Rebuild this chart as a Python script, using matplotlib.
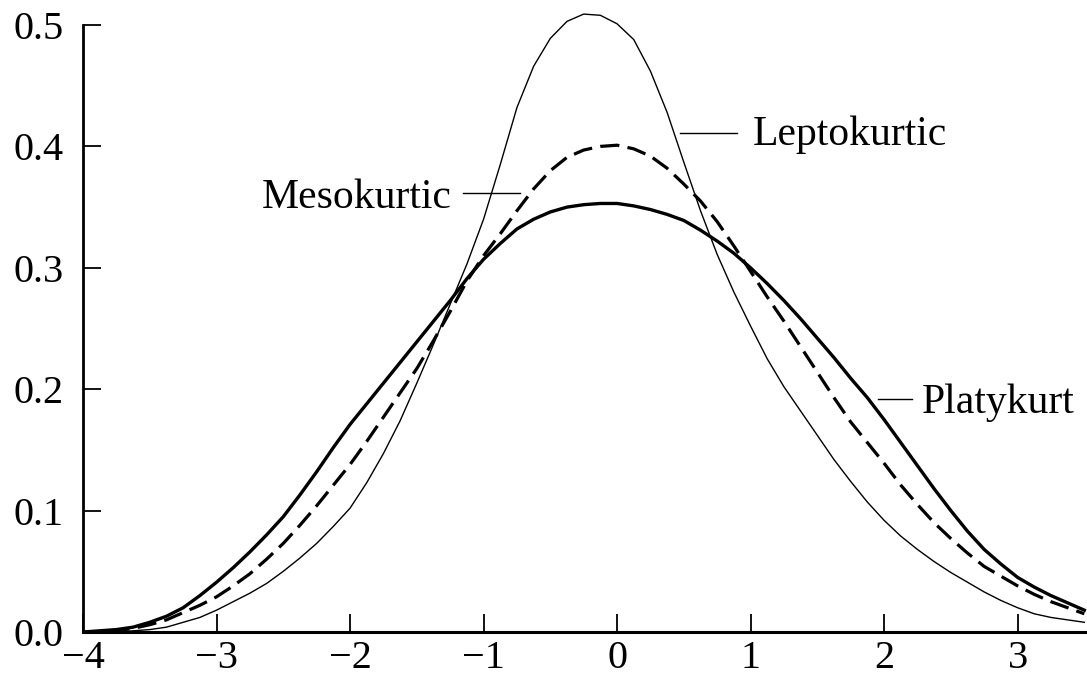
import matplotlib
matplotlib.use("Agg")
import matplotlib.pyplot as plt

plt.rcParams['font.family'] = ['Liberation Serif', 'DejaVu Serif']

x_vals = [-4.0, -3.875, -3.75, -3.625, -3.5, -3.375, -3.25, -3.125,
          -3.0, -2.875, -2.75, -2.625, -2.5, -2.375, -2.25, -2.125,
          -2.0, -1.875, -1.75, -1.625, -1.5, -1.375, -1.25, -1.125,
          -1.0, -0.875, -0.75, -0.625, -0.5, -0.375, -0.25, -0.125,
          0.0, 0.125, 0.25, 0.375, 0.5, 0.625, 0.75, 0.875,
          1.0, 1.125, 1.25, 1.375, 1.5, 1.625, 1.75, 1.875,
          2.0, 2.125, 2.25, 2.375, 2.5, 2.625, 2.75, 2.875,
          3.0, 3.125, 3.25, 3.375, 3.5]

platykurtic = [0.000, 0.001, 0.002, 0.004, 0.008, 0.013, 0.020, 0.030,
               0.041, 0.053, 0.066, 0.080, 0.095, 0.113, 0.132, 0.152,
               0.171, 0.188, 0.205, 0.222, 0.239, 0.256, 0.273, 0.291,
               0.307, 0.320, 0.332, 0.340, 0.346, 0.350, 0.352, 0.353,
               0.353, 0.351, 0.348, 0.344, 0.339, 0.331, 0.322, 0.312,
               0.300, 0.287, 0.273, 0.258, 0.242, 0.226, 0.209, 0.193,
               0.175, 0.156, 0.137, 0.118, 0.100, 0.083, 0.068, 0.056,
               0.045, 0.037, 0.030, 0.024, 0.018]

mesokurtic = [0.000, 0.000, 0.001, 0.003, 0.006, 0.010, 0.016, 0.022,
              0.029, 0.038, 0.048, 0.060, 0.073, 0.088, 0.104, 0.121,
              0.138, 0.157, 0.177, 0.197, 0.217, 0.240, 0.264, 0.289,
              0.310, 0.328, 0.347, 0.365, 0.380, 0.391, 0.397, 0.400,
              0.401, 0.398, 0.392, 0.382, 0.369, 0.355, 0.338, 0.318,
              0.297, 0.276, 0.256, 0.235, 0.214, 0.193, 0.173, 0.156,
              0.139, 0.121, 0.105, 0.090, 0.077, 0.065, 0.054, 0.046,
              0.038, 0.031, 0.025, 0.020, 0.015]

leptokurtic = [0.000, 0.000, 0.000, 0.001, 0.002, 0.004, 0.008, 0.012,
               0.018, 0.025, 0.032, 0.040, 0.050, 0.061, 0.073, 0.087,
               0.102, 0.123, 0.147, 0.174, 0.205, 0.237, 0.270, 0.303,
               0.340, 0.385, 0.432, 0.466, 0.489, 0.503, 0.509, 0.508,
               0.501, 0.488, 0.462, 0.428, 0.387, 0.347, 0.311, 0.280,
               0.252, 0.225, 0.202, 0.182, 0.162, 0.142, 0.124, 0.107,
               0.092, 0.079, 0.068, 0.058, 0.049, 0.041, 0.033, 0.026,
               0.020, 0.015, 0.012, 0.010, 0.008]

x_ticks = [-4, -3, -2, -1, 0, 1, 2, 3]
y_ticks = [0.0, 0.1, 0.2, 0.3, 0.4, 0.5]
y_ticklabels = ['0.0', '0.1', '0.2', '0.3', '0.4', '0.5']

fig = plt.figure(figsize=(10.87, 6.82), dpi=100)
ax = fig.add_axes([0.0764, 0.0733, 1 - 0.0764, 1 - 0.0733])

ax.plot(x_vals, platykurtic, color='black', lw=2.4, solid_joinstyle='round')
ax.plot(x_vals, mesokurtic, color='black', lw=2.3, dashes=(6.0, 2.6))
ax.plot(x_vals, leptokurtic, color='black', lw=1.0, solid_joinstyle='round')

ax.set_xlim(-4, 3.52)
ax.set_ylim(0, 0.5206)

for s in ['top', 'right']:
    ax.spines[s].set_visible(False)
ax.spines['left'].set_bounds(0, 0.5)
ax.spines['left'].set_linewidth(2.0)
ax.spines['bottom'].set_linewidth(2.2)

ax.set_xticks(x_ticks)
ax.set_xticklabels([str(v).replace('-', '\u2212') for v in x_ticks])
ax.set_yticks(y_ticks)
ax.set_yticklabels(y_ticklabels)
ax.tick_params(axis='both', direction='in', length=13, width=1.3,
               labelsize=29, color='black')
ax.tick_params(axis='y', pad=14)
ax.tick_params(axis='x', pad=6)

fs = 30
# Mesokurtic label and leader
ax.text(-1.24, 0.349, 'Mesokurtic', fontsize=fs, ha='right', va='baseline')
ax.plot([-1.153, -0.727], [0.362, 0.362], color='black', lw=1.0)
# Leptokurtic label and leader
ax.text(1.02, 0.401, 'Leptokurtic', fontsize=fs, ha='left', va='baseline')
ax.plot([0.47, 0.90], [0.411, 0.411], color='black', lw=1.0)
# Platykurtic label and leader (cut at the right edge in the source)
ax.text(2.285, 0.180, 'Platykurt', fontsize=fs, ha='left', va='baseline')
ax.plot([1.955, 2.21], [0.192, 0.192], color='black', lw=1.0)

fig.savefig('out.png', dpi=100)
